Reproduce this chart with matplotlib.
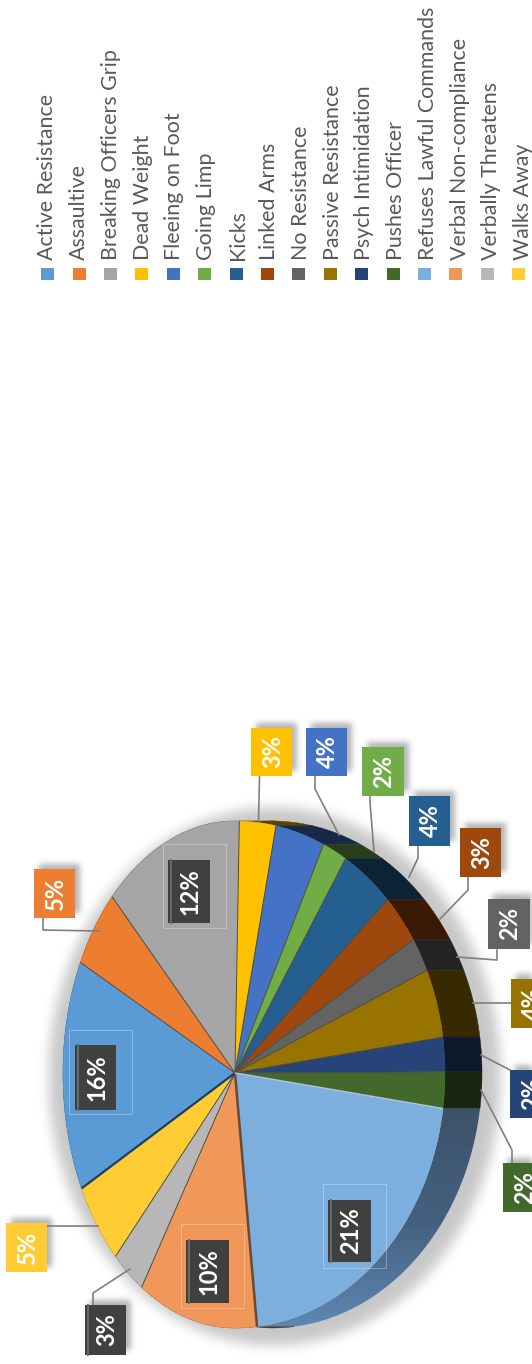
import numpy as np
import matplotlib
matplotlib.use('Agg')
import matplotlib.pyplot as plt
from matplotlib.colors import to_rgb, LinearSegmentedColormap
from matplotlib.patches import Polygon, Rectangle

plt.rcParams['font.family'] = ['Lato', 'DejaVu Sans']

# Data
categories = ['Active Resistance', 'Assaultive', 'Breaking Officers Grip', 'Dead Weight',
              'Fleeing on Foot', 'Going Limp', 'Kicks', 'Linked Arms', 'No Resistance',
              'Passive Resistance', 'Psych Intimidation', 'Pushes Officer',
              'Refuses Lawful Commands', 'Verbal Non-compliance', 'Verbally Threatens', 'Walks Away']
shares = [14.7, 5.1, 13.0, 2.8, 3.8, 1.9, 4.1, 3.2, 2.2, 4.4, 2.2, 2.3, 21.1, 10.8, 3.1, 5.3]
pct_labels = ['16%', '5%', '12%', '3%', '4%', '2%', '4%', '3%', '2%', '4%', '2%', '2%', '21%', '10%', '3%', '5%']
colors = ['#5B9BD5', '#ED7D31', '#A5A5A5', '#FFC000', '#4472C4', '#70AD47', '#255E91', '#9E480E',
          '#636363', '#997300', '#264478', '#43682B', '#7CAFDD', '#F1975A', '#B7B7B7', '#FFCD33']

# Layout, in pixels of the picture
W, H = 532, 1364
CX, CY = 235, 1073
RX_L, RX_R, RY_T, RY_B = 172, 210, 252, 255
DEPTH = 37
START = 206.9

# label boxes: x0, y0, x1, y1
boxes = [(75, 1045, 116, 1110), (34, 869, 75, 918), (168, 860, 210, 923), (251, 728, 292, 776),
         (306, 728, 347, 776), (362, 747, 404, 796), (409, 796, 450, 846), (460, 828, 501, 877),
         (488, 899, 530, 949), (511, 979, 552, 1028), (510, 1070, 551, 1118), (503, 1163, 544, 1212),
         (328, 1200, 371, 1262), (186, 1240, 229, 1303), (85, 1305, 126, 1355), (6, 1223, 47, 1272)]
box_colors = ['#404040', '#ED7D31', '#404040', '#FFC000', '#4472C4', '#70AD47', '#255E91', '#9E480E',
              '#636363', '#997300', '#264478', '#43682B', '#404040', '#404040', '#404040', '#FFCD33']
# thin outlines round the labels that sit inside the pie
outlines = [(69, 1030, 132, 1114), (163, 844, 226, 928), (323, 1184, 386, 1268), (181, 1224, 244, 1308)]
leaders = [[(43, 918), (43, 930), (99, 931)],
           [(259.5, 777), (258.5, 821)],
           [(315, 777), (315, 789), (339, 835)],
           [(370, 797), (370, 802), (374, 852)],
           [(418, 847), (418, 858), (409, 877)],
           [(468, 877), (468, 890), (440, 919)],
           [(497, 950), (497, 960), (457, 957)],
           [(511, 1003), (473, 1003)],
           [(510, 1070), (481, 1055)],
           [(512, 1163), (512, 1150), (481, 1090)],
           [(93, 1305), (93, 1293), (130, 1269)],
           [(47, 1226), (98, 1226)]]


def rim_xy(theta):
    t = np.radians(theta)
    u, v = np.cos(t), np.sin(t)
    x = CX + u * np.where(u >= 0, RX_R, RX_L)
    y = CY - v * np.where(v >= 0, RY_T, RY_B)
    return x, y


def blur(mask, sigma):
    r = int(3 * sigma)
    k = np.exp(-0.5 * (np.arange(-r, r + 1) / sigma) ** 2)
    k /= k.sum()
    mask = np.apply_along_axis(lambda a: np.convolve(a, k, mode='same'), 0, mask)
    return np.apply_along_axis(lambda a: np.convolve(a, k, mode='same'), 1, mask)


def show_shadow(ax, mask, sigma, alpha):
    s = blur(mask, sigma) * alpha
    rgba = np.zeros((H, W, 4))
    rgba[..., 3] = s
    ax.imshow(rgba, extent=(0, W, H, 0), aspect='auto', zorder=1, interpolation='bilinear')


fig = plt.figure(figsize=(W / 100, H / 100), dpi=100)
ax = fig.add_axes([0, 0, 1, 1])

yy, xx = np.mgrid[0:H, 0:W]

# soft shadow behind the pie
pie_mask = (((xx - 274) / 226.0) ** 2 + ((yy - 1076) / 269.0) ** 2 <= 1).astype(float)
show_shadow(ax, pie_mask, 6, 0.22)

# soft shadows of the labels
box_mask = np.zeros((H, W))
for x0, y0, x1, y1 in boxes:
    box_mask[max(y0 - 5, 0):y1 - 5, x0 + 5:min(x1 + 5, W)] = 1
show_shadow(ax, box_mask, 3, 0.3)

# cumulative angles, clockwise
edges = START - np.cumsum([0] + shares) * 3.6
refuses = categories.index('Refuses Lawful Commands')

# side wall
for i, c in enumerate(colors):
    t = np.linspace(edges[i], edges[i + 1], 60)
    x, y = rim_xy(t)
    pts = np.r_[np.c_[x, y], np.c_[x[::-1] + DEPTH, y[::-1]]]
    if i == refuses:
        poly = Polygon(pts, closed=True, fc='none', ec='none', zorder=2)
        ax.add_patch(poly)
        cmap = LinearSegmentedColormap.from_list('wall', ['#3C5269', '#44607F', '#5F8AB6'])
        im = ax.imshow(np.linspace(0, 1, 200)[:, None], extent=(250, 500, 1335, 1105), cmap=cmap,
                       aspect='auto', zorder=2)
        im.set_clip_path(poly)
    else:
        dark = np.array(to_rgb(c)) * 0.36
        ax.fill(pts[:, 0], pts[:, 1], color=dark, lw=0.3, zorder=2)

# top face, only the straight edges get a line
for i, c in enumerate(colors):
    t = np.linspace(edges[i], edges[i + 1], 60)
    x, y = rim_xy(t)
    ax.fill(np.r_[CX, x], np.r_[CY, y], fc=c, ec=c, lw=0.3, zorder=3)
for e in edges[:-1]:
    x, y = rim_xy(e)
    ax.plot([CX, x], [CY, y], color='#4d4d40', lw=0.7, zorder=4, solid_capstyle='butt')

# wider dark gaps between a few slices
for k, col, lw in [(0, '#1F3E5E', 1.6), (13, '#6B4A32', 1.8), (12, '#A9C4DE', 1.2)]:
    x, y = rim_xy(edges[k])
    ax.plot([CX, x], [CY, y], color=col, lw=lw, zorder=4, solid_capstyle='butt')

# leader lines
for line in leaders:
    lx, ly = zip(*line)
    ax.plot(lx, ly, color='#7F7F7F', lw=1.2, zorder=5)

# percentage labels
for b, fc, s in zip(boxes, box_colors, pct_labels):
    x0, y0, x1, y1 = b
    ax.add_patch(Rectangle((x0, y0), x1 - x0, y1 - y0, fc=fc, ec='none', zorder=6))
    if fc == '#404040':
        ax.plot([x0 + 3, x0 + 3], [y0, y1], color='#6a6a6a', lw=1.4, zorder=6)
    ax.text((x0 + x1) / 2 + 1, (y0 + y1) / 2, s, rotation=90, color='white', fontsize=17,
            fontweight='bold', ha='center', va='center', zorder=7)
for x0, y0, x1, y1 in outlines:
    ax.add_patch(Rectangle((x0, y0), x1 - x0, y1 - y0, fc='none', ec='white', alpha=0.3, lw=0.7, zorder=5))

# legend, turned with the rest of the picture
for i, (name, c) in enumerate(zip(categories, colors)):
    x = 47.7 + i * 31.4
    ax.add_patch(Rectangle((x - 6.5, 268), 13, 12, fc=c, ec='none', zorder=6))
    ax.text(47.5 + i * 31.7, 260, name, rotation=90, color='#595959', fontsize=15.4,
            ha='center', va='bottom', zorder=6)

ax.set_xlim(0, W)
ax.set_ylim(H, 0)
ax.axis('off')
fig.savefig('out.png', dpi=100)
